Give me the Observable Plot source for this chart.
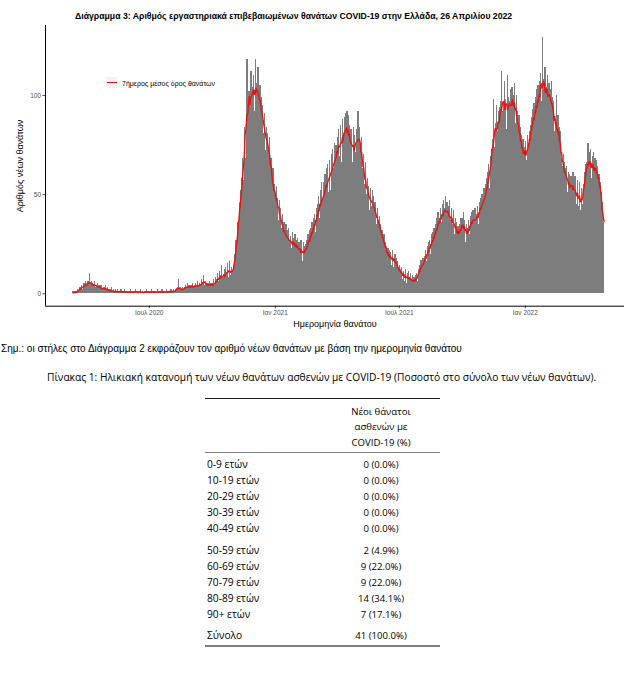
<!DOCTYPE html>
<html>
<head>
<meta charset="utf-8">
<script src="https://cdn.jsdelivr.net/npm/d3@7"></script>
<script src="https://cdn.jsdelivr.net/npm/@observablehq/plot@0.6"></script>
<style>
  body { margin:0; width:624px; height:700px; position:relative; background:#fff; overflow:hidden; font-family:"Liberation Sans", Arial, sans-serif; }
  .abs { position:absolute; white-space:nowrap; }
  #title { left:75px; top:11px; font-weight:bold; font-size:8.7px; color:#000; }
  #ylab { left:20px; top:166px; transform:translate(-50%,-50%) rotate(-90deg); font-size:9px; color:#000; }
  #xlab { left:335px; top:324px; transform:translate(-50%,-50%); font-size:9px; color:#000; }
  #legkey { left:106px; top:77px; width:11px; height:11px; background:#f2f2f2; }
  #legline { left:107px; top:82px; width:10px; height:1.4px; background:red; }
  #legtext { left:122px; top:83px; transform:translateY(-50%); font-size:7px; color:#000; }
  #note { left:1px; top:348px; transform:translateY(-50%); font-size:10px; color:#000; }
  .tab { font-family:"Open Sans", "Noto Sans", sans-serif; font-size:9.6px; color:#000; }
  #caption { left:47px; top:377px; transform:translateY(-50%); font-size:10.2px; }
  .rule { position:absolute; left:205px; width:235px; }
  .cell { position:absolute; white-space:nowrap; transform:translateY(-50%); }
  .lab { font-size:10.2px; }
  .val { transform:translate(-50%,-50%); }
</style>
</head>
<body>
<div id="title" class="abs"></div>
<div id="chart" class="abs" style="left:0;top:20px"></div>
<div id="ylab" class="abs"></div>
<div id="xlab" class="abs"></div>
<div id="legkey" class="abs"></div>
<div id="legline" class="abs"></div>
<div id="legtext" class="abs"></div>
<div id="note" class="abs"></div>
<div id="caption" class="abs tab"></div>
<div id="table" class="tab"></div>
<script>
// ---------- Texts ----------
const titleText = "Διάγραμμα 3: Αριθμός εργαστηριακά επιβεβαιωμένων θανάτων COVID-19 στην Ελλάδα, 26 Απριλίου 2022";
const yTitle = "Αριθμός νέων θανάτων";
const xTitle = "Ημερομηνία θανάτου";
const legendLabel = "7ήμερος μέσος όρος θανάτων";
const noteText = "Σημ.: οι στήλες στο Διάγραμμα 2 εκφράζουν τον αριθμό νέων θανάτων με βάση την ημερομηνία θανάτου";
const captionText = "Πίνακας 1: Ηλικιακή κατανομή των νέων θανάτων ασθενών με COVID-19 (Ποσοστό στο σύνολο των νέων θανάτων).";

// ---------- Axis ticks ----------
const xTickDates = ["2020-07-01", "2021-01-01", "2021-07-01", "2022-01-01"];
const xTickLabels = ["Ιουλ 2020", "Ιαν 2021", "Ιουλ 2021", "Ιαν 2022"];
const yTicks = [0, 50, 100];

// ---------- Daily deaths (first day 2020-03-12) ----------
const firstDay = "2020-03-12";
const mar2020 = [1,0,1,0,1,1,0,2,1,3,2,3,2,4,2,3,5,4,6,3];
const apr2020 = [4,5,6,4,10,5,3,6,4,5,4,4,6,3,4,3,5,2,4,3,2,4,3,2,3,1,3,2,4,2];
const may2020 = [3,1,2,0,2,1,3,1,0,2,1,1,2,0,1,2,1,0,1,1,2,0,1,1,0,2,1,1,0,1,1];
const jun2020 = [1,0,1,2,0,1,0,1,1,0,2,1,0,1,1,0,0,1,2,0,1,1,0,1,0,1,2,0,1,1];
const jul2020 = [0,1,1,0,2,1,0,1,1,0,1,0,2,1,1,0,1,1,0,2,1,0,1,1,0,1,2,1,0,1,1];
const aug2020 = [1,2,1,0,1,2,1,1,2,1,2,3,7,2,1,3,2,1,3,2,2,3,4,2,3,5,3,4,2,4,3];
const sep2020 = [4,3,5,3,4,2,5,3,4,6,3,4,5,3,4,7,5,6,9,4,6,5,4,3,5,4,6,3,5,4];
const oct2020 = [5,3,7,4,2,8,5,7,10,6,5,11,6,9,14,5,8,6,12,9,13,7,10,15,8,12,16,9,7,13,11];
const nov2020 = [9,14,20,13,27,22,33,36,32,46,52,41,58,50,68,57,78,84,68,92,118,80,90,102,86,108,112,90,104,93];
const dec2020 = [110,92,118,96,106,90,114,98,95,105,86,99,84,95,81,80,91,72,84,68,81,70,74,79,58,68,54,52,63,46,55];
const jan2021 = [50,44,54,41,48,37,47,35,43,33,30,40,27,36,29,25,35,24,32,23,33,27,21,29,23,31,20,28,22,30,20];
const feb2021 = [27,20,28,18,26,22,17,27,20,16,26,18,24,15,25,27,19,30,22,32,24,33,26,36,27,38,29,40];
const mar2021 = [31,43,33,45,35,49,38,52,41,56,39,48,56,42,60,46,63,50,65,51,55,67,52,70,56,73,58,63,76,60,75];
const apr2021 = [64,79,66,83,69,85,72,66,88,71,81,89,73,91,77,92,74,90,72,85,69,83,70,66,84,68,80,71,67,83];
const may2021 = [73,92,70,84,76,68,79,63,60,70,55,54,66,50,48,58,44,54,42,53,44,41,52,42,49,39,46,37,35,43,33];
const jun2021 = [37,39,29,35,27,32,24,27,30,21,26,18,24,17,23,16,22,15,21,14,22,16,13,19,20,12,18,11,16,11];
const jul2021 = [12,14,8,11,13,7,11,9,6,12,8,5,10,6,11,8,5,10,6,4,9,5,8,3,9,6,10,6,12,9,14];
const aug2021 = [11,17,10,15,18,12,19,14,22,16,24,17,26,18,27,20,30,22,31,24,33,25,35,27,38,29,41,31,38,43,33];
const sep2021 = [36,45,37,47,34,43,49,38,46,35,44,33,47,37,32,43,35,31,42,30,38,27,36,26,34,25,35,28,38,29];
const oct2021 = [38,31,41,29,37,26,35,25,33,28,37,30,39,31,41,33,42,31,39,43,32,40,34,44,35,46,38,48,40,50,42];
const nov2021 = [44,53,42,55,46,58,48,61,65,53,69,59,73,64,78,98,74,70,86,95,82,77,92,80,94,83,97,112,92,88];
const dec2021 = [96,107,86,98,83,110,88,99,85,97,103,89,104,87,100,106,90,86,100,81,92,78,90,74,84,68,80,66,78,64,74];
const jan2022 = [65,77,67,80,62,76,82,72,85,89,76,93,81,96,84,99,86,103,90,105,92,107,94,111,97,129,96,108,94,114,100];
const feb2022 = [104,95,110,92,106,90,103,107,87,99,84,97,82,88,75,100,73,90,72,84,70,82,68,64,60,70,55,66];
const mar2022 = [63,52,64,51,61,49,60,48,59,47,58,61,49,46,59,48,45,57,47,44,56,45,42,53,40,45,55,52,61,65,57];
const apr2022 = [66,63,76,58,71,60,73,58,69,56,71,59,68,55,67,58,64,55,60,50,56,44,51,46,36,13];

// ---------- Table data ----------
const ageGroups = ["0-9 ετών","10-19 ετών","20-29 ετών","30-39 ετών","40-49 ετών","50-59 ετών","60-69 ετών","70-79 ετών","80-89 ετών","90+ ετών"];
const ageDeaths = [0,0,0,0,0,2,9,9,14,7];
const agePercents = ["0.0","0.0","0.0","0.0","0.0","4.9","22.0","22.0","34.1","17.1"];
const totalLabel = "Σύνολο";
const totalDeaths = 41;
const totalPercent = "100.0";
const tableHeader = ["Νέοι θάνατοι", "ασθενών με", "COVID-19 (%)"];

// ---------- Build table for Plot ----------
const allValues = [].concat(mar2020,apr2020,may2020,jun2020,jul2020,aug2020,sep2020,oct2020,nov2020,dec2020,
  jan2021,feb2021,mar2021,apr2021,may2021,jun2021,jul2021,aug2021,sep2021,oct2021,nov2021,dec2021,
  jan2022,feb2022,mar2022,apr2022);
const start = new Date(firstDay + "T00:00:00Z");
const rows = allValues.map((v, i) => {
  const date = d3.utcDay.offset(start, i);
  return {date, x1: d3.utcHour.offset(date, -12), x2: d3.utcHour.offset(date, 30), value: v};
});
const tickMap = new Map(xTickDates.map((d, i) => [+new Date(d + "T00:00:00Z"), xTickLabels[i]]));

const xDomain = [new Date("2020-01-31T13:26:00Z"), new Date("2022-05-25T19:00:00Z")];
const yDomain = [-6.3, 135.3];
const barGray = "#7d7d7d";

const chart = Plot.plot({
  width: 624,
  height: 300,
  marginTop: 5,
  marginLeft: 45,
  marginRight: 0,
  marginBottom: 14.3,
  style: {fontFamily: "Liberation Sans, Arial, sans-serif", fontSize: "6.5px", color: "#4d4d4d", background: "transparent"},
  x: {type: "utc", domain: xDomain, ticks: xTickDates.map(d => new Date(d + "T00:00:00Z")),
      tickFormat: d => tickMap.get(+d), label: null, tickSize: 2.5, tickPadding: 1.5},
  y: {domain: yDomain, ticks: yTicks, label: null, tickSize: 2.5, tickPadding: 2},
  marks: [
    Plot.rectY(rows, {x1: "x1", x2: "x2", y: "value", fill: barGray, inset: 0, shapeRendering: "crispEdges"}),
    Plot.lineY(rows, Plot.windowY({k: 7, anchor: "middle", reduce: "mean"}, {x: "date", y: "value", stroke: "#f01010", strokeWidth: 1.4})),
    Plot.ruleX([xDomain[0]], {stroke: "black", strokeWidth: 1}),
    Plot.ruleY([yDomain[0]], {stroke: "black", strokeWidth: 1})
  ]
});
document.getElementById("chart").appendChild(chart);

// ---------- Texts ----------
document.getElementById("title").textContent = titleText;
document.getElementById("ylab").textContent = yTitle;
document.getElementById("xlab").textContent = xTitle;
document.getElementById("legtext").textContent = legendLabel;
document.getElementById("note").textContent = noteText;
document.getElementById("caption").textContent = captionText;

// ---------- Table ----------
const tbl = document.getElementById("table");
function addRule(y, h, color) {
  const r = document.createElement("div");
  r.className = "rule";
  r.style.top = (y - h / 2) + "px";
  r.style.height = h + "px";
  r.style.background = color;
  tbl.appendChild(r);
}
function addCell(text, x, y, cls) {
  const c = document.createElement("div");
  c.className = "cell " + cls;
  c.style.left = x + "px";
  c.style.top = y + "px";
  c.textContent = text;
  tbl.appendChild(c);
}
addRule(398.3, 1, "#222");
tableHeader.forEach((t, i) => addCell(t, 381, 410.5 + i * 15.5, "val"));
addRule(452.7, 1.6, "#808080");
let y = 464;
ageGroups.forEach((g, i) => {
  if (i === 5) y += 5.5;
  addCell(g, 207, y, "lab");
  addCell(ageDeaths[i] + " (" + agePercents[i] + "%)", 381, y, "val");
  y += 16;
});
y += 5.5;
addCell(totalLabel, 207, y, "lab");
addCell(totalDeaths + " (" + totalPercent + "%)", 381, y, "val");
addRule(646, 1.6, "#808080");
</script>
</body>
</html>
